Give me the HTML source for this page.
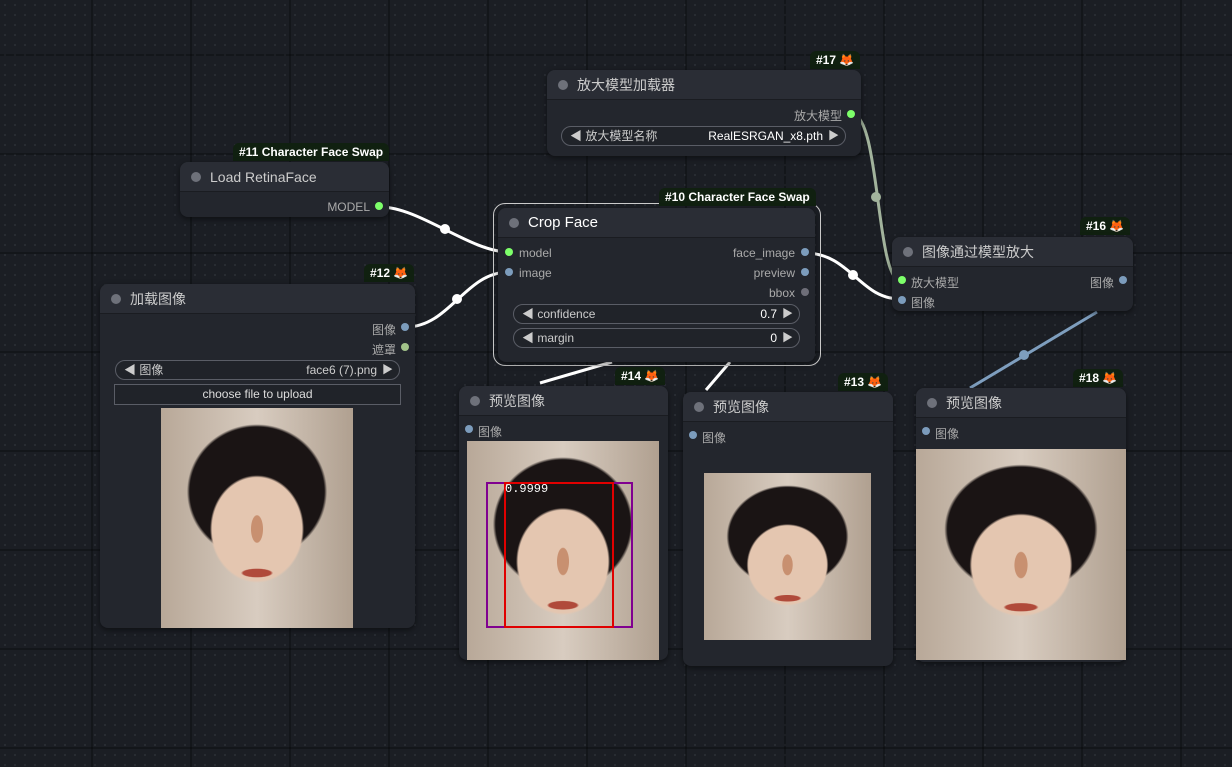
<!DOCTYPE html>
<html><head><meta charset="utf-8"><style>
*{box-sizing:border-box;margin:0;padding:0}
body{width:1232px;height:767px;overflow:hidden;position:relative;font-family:"Liberation Sans","Noto Sans CJK SC",sans-serif;
background-color:#1b1e24;
background-image:linear-gradient(90deg,rgba(0,0,0,.28) 2px,transparent 2px),linear-gradient(0deg,rgba(0,0,0,.28) 2px,transparent 2px),radial-gradient(circle,#2a2e35 0.8px,transparent 1.2px);
background-size:99px 99px,99px 99px,10px 10px;background-position:-8px 0,0 -43px,0 0}
.node{position:absolute;background:#23262d;border-radius:8px;box-shadow:0 2px 6px rgba(0,0,0,.5)}
.hd{height:30px;background:#2a2d35;border-radius:8px 8px 0 0;border-bottom:1px solid #1a1c21;color:#ccc;font-size:14px;line-height:30px;padding-left:30px;position:relative}
.hd:before{content:"";position:absolute;left:11px;top:10px;width:10px;height:10px;border-radius:50%;background:#6e717a}
.badge{position:absolute;background:#102010;color:#fff;font-size:12px;font-weight:bold;height:18px;line-height:18px;padding:0 6px;border-radius:6px 6px 0 0}
.fox{color:#f08030}
.lab{position:absolute;font-size:12px;color:#aaa}
.dot{position:absolute;width:8px;height:8px;border-radius:50%}
.w{position:absolute;height:20px;border:1px solid #5a5d66;border-radius:10px;background:#202329;font-size:12px;color:#ccc;line-height:18px;padding:0 8px}
.w .r{position:absolute;right:22px;top:0}
.w .ar{position:absolute;right:6px;top:0;font-size:11px}
.img{position:absolute;background:radial-gradient(ellipse 5% 10% at 50% 55%,#c89070 60%,transparent 65%),radial-gradient(ellipse 12% 3% at 50% 75%,#b04a3a 60%,transparent 70%),radial-gradient(ellipse 36% 36% at 50% 55%,#e4c6b0 65%,transparent 68%),radial-gradient(ellipse 50% 42% at 50% 38%,#1a1414 70%,transparent 73%),linear-gradient(90deg,#b8a898,#d8ccc0 50%,#b0a090)}
</style></head><body>
<svg width="1232" height="767" style="position:absolute;left:0;top:0">
<g fill="none" stroke-width="3">
<path d="M380,207 C420,207 470,252 509,252" stroke="#fff"/>
<path d="M406,327 C450,327 465,272 509,272" stroke="#fff"/>
<path d="M805,253 C850,253 860,299 900,299" stroke="#fff"/>
<path d="M852,114 C880,114 876,280 900,280" stroke="#a2b39c"/>
<path d="M1097,312 L970,388" stroke="#7e9ebe"/>
<path d="M612,362 L540,383" stroke="#fff"/>
<path d="M730,362 L706,390" stroke="#fff"/>
</g>
<circle cx="445" cy="229" r="5" fill="#fff"/><circle cx="457" cy="299" r="5" fill="#fff"/>
<circle cx="853" cy="275" r="5" fill="#fff"/><circle cx="876" cy="197" r="5" fill="#a2b39c"/>
<circle cx="1024" cy="355" r="5" fill="#7e9ebe"/>
</svg>

<div class="badge" style="left:233px;top:143px">#11 Character Face Swap</div>
<div class="node" style="left:180px;top:162px;width:209px;height:55px"><div class="hd">Load RetinaFace</div>
<div class="lab" style="right:19px;top:38px">MODEL</div><div class="dot" style="right:6px;top:40px;background:#7dff6a"></div></div>

<div style="position:absolute;left:493px;top:203px;width:328px;height:163px;border:1.5px solid #ccc;border-radius:12px"></div>
<div class="badge" style="left:659px;top:188px">#10 Character Face Swap</div>
<div class="node" style="left:498px;top:208px;width:317px;height:154px"><div class="hd" style="color:#fff;font-size:15px">Crop Face</div>
<div class="dot" style="left:7px;top:40px;background:#7dff6a"></div><div class="lab" style="left:21px;top:38px">model</div>
<div class="dot" style="left:7px;top:60px;background:#7c9cbc"></div><div class="lab" style="left:21px;top:58px">image</div>
<div class="lab" style="right:20px;top:38px">face_image</div><div class="dot" style="right:6px;top:40px;background:#7c9cbc"></div>
<div class="lab" style="right:20px;top:58px">preview</div><div class="dot" style="right:6px;top:60px;background:#7c9cbc"></div>
<div class="lab" style="right:20px;top:78px">bbox</div><div class="dot" style="right:6px;top:80px;background:#6e6e78"></div>
<div class="w" style="left:15px;top:96px;width:287px">◀ confidence<span class="r" style="color:#fff">0.7</span><span class="ar">▶</span></div>
<div class="w" style="left:15px;top:120px;width:287px">◀ margin<span class="r" style="color:#fff">0</span><span class="ar">▶</span></div></div>

<div class="badge" style="left:364px;top:264px">#12 <span class="fox">🦊</span></div>
<div class="node" style="left:100px;top:284px;width:315px;height:344px"><div class="hd">加载图像</div>
<div class="lab" style="right:19px;top:37px">图像</div><div class="dot" style="right:6px;top:39px;background:#7c9cbc"></div>
<div class="lab" style="right:19px;top:57px">遮罩</div><div class="dot" style="right:6px;top:59px;background:#a2c38a"></div>
<div class="w" style="left:15px;top:76px;width:285px">◀ 图像<span class="r">face6 (7).png</span><span class="ar">▶</span></div>
<div style="position:absolute;left:14px;top:100px;width:287px;height:21px;border:1px solid #5a5d66;background:#202329;color:#ddd;font-size:12px;text-align:center;line-height:19px">choose file to upload</div>
<div class="img" style="left:61px;top:124px;width:192px;height:220px"></div></div>

<div class="badge" style="left:810px;top:51px">#17 <span class="fox">🦊</span></div>
<div class="node" style="left:547px;top:70px;width:314px;height:86px"><div class="hd">放大模型加载器</div>
<div class="lab" style="right:19px;top:37px">放大模型</div><div class="dot" style="right:6px;top:40px;background:#7dff6a"></div>
<div class="w" style="left:14px;top:56px;width:285px">◀ 放大模型名称<span class="r" style="color:#fff">RealESRGAN_x8.pth</span><span class="ar">▶</span></div></div>

<div class="badge" style="left:1080px;top:217px">#16 <span class="fox">🦊</span></div>
<div class="node" style="left:892px;top:237px;width:241px;height:74px"><div class="hd">图像通过模型放大</div>
<div class="dot" style="left:6px;top:39px;background:#7dff6a"></div><div class="lab" style="left:19px;top:37px">放大模型</div>
<div class="dot" style="left:6px;top:59px;background:#7c9cbc"></div><div class="lab" style="left:19px;top:57px">图像</div>
<div class="lab" style="right:19px;top:37px">图像</div><div class="dot" style="right:6px;top:39px;background:#7c9cbc"></div></div>

<div class="badge" style="left:615px;top:367px">#14 <span class="fox">🦊</span></div>
<div class="node" style="left:459px;top:386px;width:209px;height:274px"><div class="hd">预览图像</div>
<div class="dot" style="left:6px;top:39px;background:#7c9cbc"></div><div class="lab" style="left:19px;top:37px">图像</div>
<div class="img" style="left:8px;top:55px;width:192px;height:219px"></div>
<div style="position:absolute;left:27px;top:96px;width:147px;height:146px;border:2px solid #800090"></div>
<div style="position:absolute;left:45px;top:96px;width:110px;height:146px;border:2px solid #e00000"></div>
<div style="position:absolute;left:46px;top:96px;color:#fff;font-size:12px;font-family:'Liberation Mono',monospace">0.9999</div></div>

<div class="badge" style="left:838px;top:373px">#13 <span class="fox">🦊</span></div>
<div class="node" style="left:683px;top:392px;width:210px;height:274px"><div class="hd">预览图像</div>
<div class="dot" style="left:6px;top:39px;background:#7c9cbc"></div><div class="lab" style="left:19px;top:37px">图像</div>
<div class="img" style="left:21px;top:81px;width:167px;height:167px"></div></div>

<div class="badge" style="left:1073px;top:369px">#18 <span class="fox">🦊</span></div>
<div class="node" style="left:916px;top:388px;width:210px;height:274px"><div class="hd">预览图像</div>
<div class="dot" style="left:6px;top:39px;background:#7c9cbc"></div><div class="lab" style="left:19px;top:37px">图像</div>
<div class="img" style="left:0;top:61px;width:210px;height:211px"></div></div>
</body></html>
